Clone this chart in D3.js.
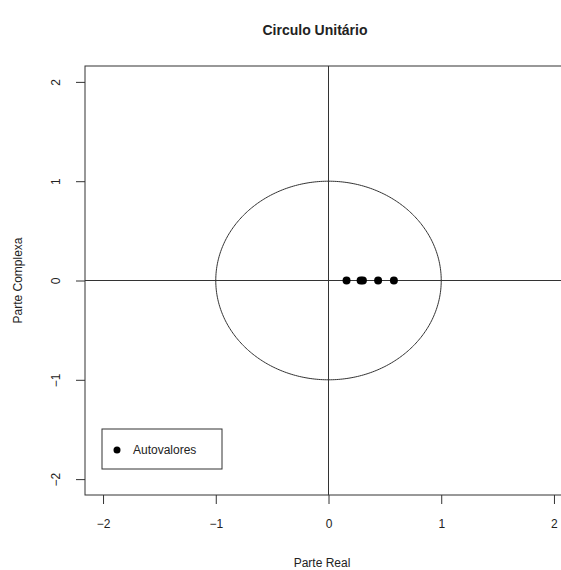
<!DOCTYPE html>
<html>
<head>
<meta charset="utf-8">
<script src="https://cdn.jsdelivr.net/npm/d3@7"></script>
<style>
  body { margin: 0; background: #fff; }
  svg { display: block; }
  text { font-family: "Liberation Sans", Arial, sans-serif; fill: #222; }
</style>
</head>
<body>
<svg id="chart" width="561" height="570"></svg>
<script>
// Eigenvalues (real parts; all imaginary parts are zero)
const eigenReal = [0.16, 0.285, 0.305, 0.44, 0.58];
const eigenImag = [0, 0, 0, 0, 0];
const xTicks = [-2, -1, 0, 1, 2];
const yTicks = [-2, -1, 0, 1, 2];
const titleText = "Circulo Unitário";
const xLabel = "Parte Real";
const yLabel = "Parte Complexa";
const legendLabel = "Autovalores";

const svg = d3.select("#chart");
const ink = "#333";

// Plot region (R-style 4% padding around [-2, 2])
const plotLeft = 85, plotTop = 66, plotRight = 572, plotBottom = 495;
const x = d3.scaleLinear().domain([-2.16, 2.16]).range([plotLeft, plotRight]);
const y = d3.scaleLinear().domain([-2.16, 2.16]).range([plotBottom, plotTop]);

// Title
svg.append("text").attr("x", 315).attr("y", 35)
  .attr("text-anchor", "middle").style("font-weight", "bold").style("font-size", "14px")
  .text(titleText);

// Axes
const fmt = d => d < 0 ? "\u2212" + Math.abs(d) : d;
const gx = svg.append("g").attr("transform", `translate(0,${plotBottom})`)
  .call(d3.axisBottom(x).tickValues(xTicks).tickSize(9).tickPadding(15).tickFormat(fmt));
gx.select(".domain").remove();
gx.selectAll("line").attr("stroke", ink);
gx.selectAll("text").style("font-size", "12px").attr("fill", "#222");

const gy = svg.append("g").attr("transform", `translate(${plotLeft},0)`)
  .call(d3.axisLeft(y).tickValues(yTicks).tickSize(9).tickFormat(fmt));
gy.select(".domain").remove();
gy.selectAll("line").attr("stroke", ink);
gy.selectAll("text")
  .style("font-size", "12px").attr("fill", "#222")
  .attr("x", null).attr("dy", null)
  .attr("text-anchor", "middle")
  .attr("transform", "translate(-25,0) rotate(-90)");

// Axis titles
svg.append("text").attr("x", 322).attr("y", 567).attr("text-anchor", "middle")
  .style("font-size", "12px").text(xLabel);
svg.append("text").attr("transform", `translate(22,${y(0)}) rotate(-90)`)
  .attr("text-anchor", "middle").style("font-size", "12px").text(yLabel);

// Plot box
svg.append("rect").attr("x", plotLeft).attr("y", plotTop)
  .attr("width", plotRight - plotLeft).attr("height", plotBottom - plotTop)
  .attr("fill", "none").attr("stroke", ink);

// Reference lines through the origin
svg.append("line").attr("x1", x(0)).attr("x2", x(0)).attr("y1", plotTop).attr("y2", plotBottom).attr("stroke", ink);
svg.append("line").attr("x1", plotLeft).attr("x2", plotRight).attr("y1", y(0)).attr("y2", y(0)).attr("stroke", ink);

// Unit circle
const theta = d3.range(0, 361).map(d => d * Math.PI / 180);
svg.append("path")
  .datum(theta)
  .attr("d", d3.line().x(t => x(Math.cos(t))).y(t => y(Math.sin(t))))
  .attr("fill", "none").attr("stroke", ink);

// Eigenvalue points
svg.selectAll("circle.eig").data(eigenReal).join("circle")
  .attr("class", "eig")
  .attr("cx", d => x(d)).attr("cy", (d, i) => y(eigenImag[i]))
  .attr("r", 4).attr("fill", "#000");

// Legend
const lg = svg.append("g");
lg.append("rect").attr("x", 102).attr("y", 429).attr("width", 120).attr("height", 40)
  .attr("fill", "#fff").attr("stroke", ink);
lg.append("circle").attr("cx", 117).attr("cy", 450).attr("r", 3.5).attr("fill", "#000");
lg.append("text").attr("x", 133).attr("y", 454).style("font-size", "12px").text(legendLabel);
</script>
</body>
</html>
